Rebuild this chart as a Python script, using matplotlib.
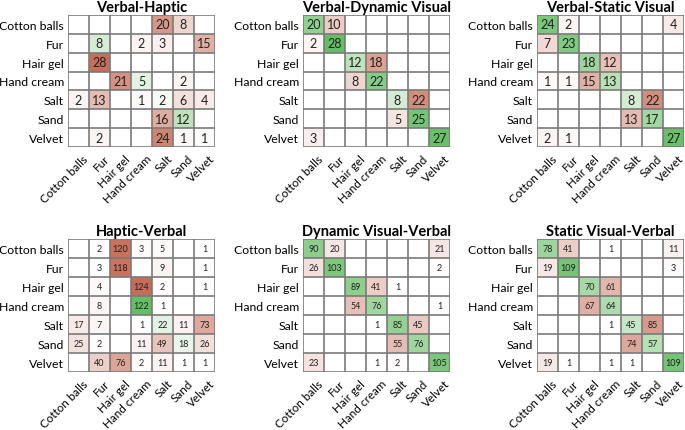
import numpy as np
import matplotlib.pyplot as plt
from matplotlib.transforms import ScaledTranslation

plt.rcParams['font.family'] = ['Lato', 'DejaVu Sans']

labels = ['Cotton balls', 'Fur', 'Hair gel', 'Hand cream', 'Salt', 'Sand', 'Velvet']

titles = ['Verbal-Haptic', 'Verbal-Dynamic Visual', 'Verbal-Static Visual',
          'Haptic-Verbal', 'Dynamic Visual-Verbal', 'Static Visual-Verbal']

verbal_haptic = [
    [0, 0, 0, 0, 20, 8, 0],
    [0, 8, 0, 2, 3, 0, 15],
    [0, 28, 0, 0, 0, 0, 0],
    [0, 0, 21, 5, 0, 2, 0],
    [2, 13, 0, 1, 2, 6, 4],
    [0, 0, 0, 0, 16, 12, 0],
    [0, 2, 0, 0, 24, 1, 1],
]
verbal_dynamic = [
    [20, 10, 0, 0, 0, 0, 0],
    [2, 28, 0, 0, 0, 0, 0],
    [0, 0, 12, 18, 0, 0, 0],
    [0, 0, 8, 22, 0, 0, 0],
    [0, 0, 0, 0, 8, 22, 0],
    [0, 0, 0, 0, 5, 25, 0],
    [3, 0, 0, 0, 0, 0, 27],
]
verbal_static = [
    [24, 2, 0, 0, 0, 0, 4],
    [7, 23, 0, 0, 0, 0, 0],
    [0, 0, 18, 12, 0, 0, 0],
    [1, 1, 15, 13, 0, 0, 0],
    [0, 0, 0, 0, 8, 22, 0],
    [0, 0, 0, 0, 13, 17, 0],
    [2, 1, 0, 0, 0, 0, 27],
]
haptic_verbal = [
    [0, 2, 120, 3, 5, 0, 1],
    [0, 3, 118, 0, 9, 0, 1],
    [0, 4, 0, 124, 2, 0, 1],
    [0, 8, 0, 122, 1, 0, 0],
    [17, 7, 0, 1, 22, 11, 73],
    [25, 2, 0, 11, 49, 18, 26],
    [0, 40, 76, 2, 11, 1, 1],
]
dynamic_verbal = [
    [90, 20, 0, 0, 0, 0, 21],
    [26, 103, 0, 0, 0, 0, 2],
    [0, 0, 89, 41, 1, 0, 0],
    [0, 0, 54, 76, 0, 0, 1],
    [0, 0, 0, 1, 85, 45, 0],
    [0, 0, 0, 0, 55, 76, 0],
    [23, 0, 0, 1, 2, 0, 105],
]
static_verbal = [
    [78, 41, 0, 1, 0, 0, 11],
    [19, 109, 0, 0, 0, 0, 3],
    [0, 0, 70, 61, 0, 0, 0],
    [0, 0, 67, 64, 0, 0, 0],
    [0, 0, 0, 1, 45, 85, 0],
    [0, 0, 0, 0, 74, 57, 0],
    [19, 1, 0, 1, 1, 0, 109],
]

matrices = [verbal_haptic, verbal_dynamic, verbal_static,
            haptic_verbal, dynamic_verbal, static_verbal]
vmaxes = [30, 30, 30, 131, 131, 131]

red = np.array([196, 100, 78]) / 255
green = np.array([90, 185, 90]) / 255
white = np.array([1.0, 1.0, 1.0])

fig = plt.figure(figsize=(6.85, 4.31), dpi=100)

lefts = [68, 303, 537]
tops = [16, 240]
bottoms = [148, 373]
W, H = 685, 431

for k, (mat, title, vmax) in enumerate(zip(matrices, titles, vmaxes)):
    r, c = divmod(k, 3)
    x0 = lefts[c]
    ax = fig.add_axes([x0 / W, 1 - bottoms[r] / H, 147 / W, (bottoms[r] - tops[r]) / H])
    m = np.array(mat)
    n = len(labels)
    img = np.ones((n, n, 3))
    for i in range(n):
        for j in range(n):
            v = m[i, j]
            if v > 0:
                t = min(v / vmax, 1.0)
                base = green if i == j else red
                img[i, j] = white * (1 - t) + base * t
    ax.imshow(img, aspect='auto', extent=(-0.5, n - 0.5, n - 0.5, -0.5))
    fs = 9 if r == 0 else 6.5
    for i in range(n):
        for j in range(n):
            if m[i, j] > 0:
                ax.text(j, i, str(m[i, j]), ha='center', va='center',
                        fontsize=fs, color='#222222')
    for g in np.arange(-0.5, n, 1):
        ax.axhline(g, color='#7a7a7a', lw=1.2)
        ax.axvline(g, color='#7a7a7a', lw=1.2)
    ax.set_xlim(-0.5, n - 0.5)
    ax.set_ylim(n - 0.5, -0.5)
    ax.set_xticks(range(n))
    ax.set_yticks(range(n))
    ax.set_xticklabels(labels, rotation=45, ha='right', rotation_mode='anchor', fontsize=8.4)
    ax.set_yticklabels(labels, fontsize=8.8)
    ax.tick_params(axis='y', length=0, pad=3)
    ax.tick_params(axis='x', length=0, pad=4)
    shift = ScaledTranslation(4 / 100, 0, fig.dpi_scale_trans)
    for lab in ax.get_xticklabels():
        lab.set_transform(lab.get_transform() + shift)
    for s in ax.spines.values():
        s.set_visible(False)
    ax.set_title(title, fontsize=10.5, fontweight='bold', pad=3)

fig.savefig('out.png', dpi=100)
